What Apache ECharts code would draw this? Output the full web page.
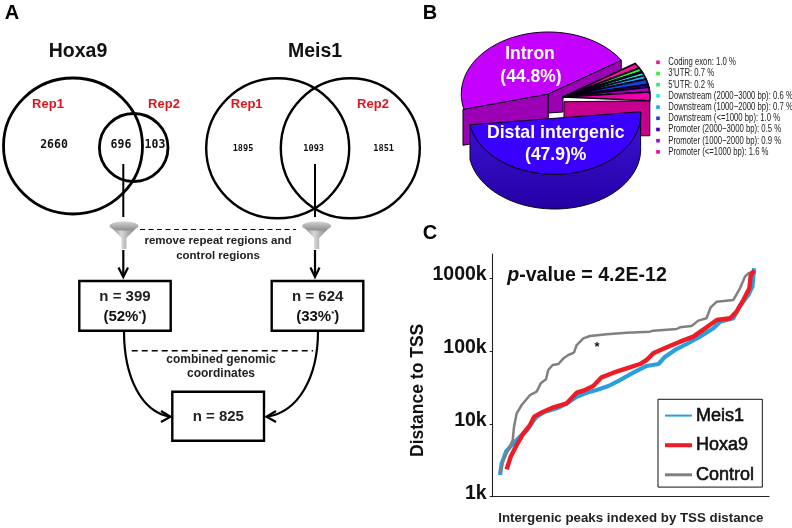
<!DOCTYPE html>
<html><head><meta charset="utf-8">
<style>html,body{margin:0;padding:0;background:#fff}#c{width:792px;height:528px}</style>
<script src="https://cdn.jsdelivr.net/npm/echarts@6/dist/echarts.min.js"></script>
</head><body><div id="c"></div>
<script>
// ---- Panel C data ----
var yTicks = [1000, 10000, 100000, 1000000];
var controlIdx = [2.65,3.86,5.67,7.24,7.72,8.69,10.5,13.5,15.9,17.4,19.3,20.1,21.7,23.8,25.6,27.4,29.4,30.4,32.8,35.2,41.3,48.5,56.9,58.1,66.6,67.8,72.0,74.4,77.4,78.9,81.1,87.1,89.5,91.3,92.5,94.9];
var controlDist = [2094,3190,4377,6010,9160,13970,18190,24950,27730,36100,40970,55050,64480,66600,79620,88510,95300,121300,149900,161400,170200,179500,185300,191000,201400,212300,221300,262400,282500,399900,478600,504700,729500,1054000,1172000,1276000];
var meisIdx = [2.65,3.26,4.83,6.88,9.89,12.5,14.5,15.9,18.9,23.2,26.8,30.4,34.0,37.6,41.9,46.1,50.9,55.7,60.0,62.4,66.0,70.2,75.0,79.9,82.3,87.1,88.9,92.5,94.0,94.6];
var meisDist = [1985,2871,4153,5129,6683,8241,10730,12560,14720,16370,19190,23660,26850,29240,33190,40090,50580,62520,66530,83950,103700,125300,158100,205700,254100,282500,387300,590200,769100,1374000];
var hoxaIdx = [5.07,6.51,8.69,11.1,13.5,15.0,18.3,22.0,26.8,30.4,32.8,36.4,39.4,43.7,48.5,53.3,55.7,58.1,63.0,67.8,72.6,77.4,81.1,85.9,88.3,90.7,92.9,93.4,94.7];
var hoxaDist = [2375,3545,5129,7420,9660,12570,14720,16900,19190,26860,28620,33190,43650,50580,58030,66530,75510,93240,112800,134900,158100,212300,267900,282500,348500,504500,729500,1112000,1276000];
// ---- Panel B data ----
var pieNames = ['Intron','Coding exon',"3'UTR","5'UTR",'Downstream (2000−3000 bp)','Downstream (1000−2000 bp)','Downstream (<=1000 bp)','Promoter (2000−3000 bp)','Promoter (1000−2000 bp)','Promoter (<=1000 bp)','Distal intergenic'];
var pieValues = [44.8,1.0,0.7,0.2,0.6,0.7,1.0,0.5,0.9,1.6,47.9];
var pieColors = ['#c400ff','#f0109a','#33ee33','#22ee66','#22eedd','#11aaee','#0a44e0','#3300cc','#aa00cc','#f000a8','#3a00ff'];
// ---- Panel A data ----
var hoxaCounts = [2660,696,103];
var meisCounts = [1895,1093,1851];
var filteredCounts = [399,624];
var filteredPct = [52,33];
var combinedCount = 825;

function zip(a,b){return a.map(function(v,i){return [v,b[i]];});}
var SANS='"Liberation Sans",Arial,sans-serif';
var MONO='"DejaVu Sans Mono",monospace';

function txt(x,y,t,font,fill,extra){
  var st={x:x,y:y,text:t,font:font,fill:fill||'#111',align:'center',verticalAlign:'middle'};
  if(extra)for(var k in extra)st[k]=extra[k];
  return {type:'text',silent:true,style:st};
}
function ell(cx,cy,rx,ry,w){return {type:'ellipse',shape:{cx:cx,cy:cy,rx:rx,ry:ry},style:{fill:'transparent',stroke:'#000',lineWidth:w}};}
function line(pts,w,dash){return {type:'polyline',shape:{points:pts},style:{fill:'transparent',stroke:'#000',lineWidth:w,lineDash:dash||null}};}
function box(x,y,w,h){return {type:'rect',shape:{x:x,y:y,width:w,height:h},style:{fill:'#fff',stroke:'#000',lineWidth:2.4}};}
function curve(x1,y1,c1x,c1y,c2x,c2y,x2,y2){return {type:'bezierCurve',shape:{x1:x1,y1:y1,cpx1:c1x,cpy1:c1y,cpx2:c2x,cpy2:c2y,x2:x2,y2:y2},style:{fill:'transparent',stroke:'#000',lineWidth:2.2}};}
function funnel(cx){
  var g={type:'linear',x:0,y:0,x2:1,y2:0,colorStops:[{offset:0,color:'#777'},{offset:.4,color:'#d8d8d8'},{offset:1,color:'#6e6e6e'}]};
  return [
    {type:'polygon',shape:{points:[[cx-14,226],[cx+14,226],[cx+2.5,238],[cx+2.5,249],[cx-2.5,249],[cx-2.5,238]]},style:{fill:g}},
    {type:'ellipse',shape:{cx:cx,cy:226,rx:14.5,ry:4.5},style:{fill:{type:'linear',x:0,y:0,x2:0,y2:1,colorStops:[{offset:0,color:'#d4d4d4'},{offset:1,color:'#8c8c8c'}]}}}
  ];
}
var sup={s:{fontSize:8,fontWeight:'bold',fontFamily:'Liberation Sans',fill:'#111',padding:[0,0,6,0]},m:{font:'bold 15px '+SANS,fill:'#111'}};

var els=[
  txt(12,13,'A','bold 20px '+SANS,'#000'),txt(430,13,'B','bold 20px '+SANS,'#000'),txt(430,233,'C','bold 20px '+SANS,'#000'),
  txt(78,52,'Hoxa9','bold 19.5px '+SANS,'#111'),txt(315,52,'Meis1','bold 19.5px '+SANS,'#111'),
  ell(73,146,69.5,68,2.8),ell(133.7,147.5,34.3,34,2.8),ell(277.7,148.3,71.5,70,2.4),ell(350.3,148.3,69.5,70,2.4),
  txt(48,104.5,'Rep1','bold 13px '+SANS,'#e0141e'),txt(164,104.5,'Rep2','bold 13px '+SANS,'#e0141e'),
  txt(246.7,104.5,'Rep1','bold 13px '+SANS,'#e0141e'),txt(373,104.5,'Rep2','bold 13px '+SANS,'#e0141e'),
  txt(54,145,String(hoxaCounts[0]),'bold 11.5px '+MONO),txt(121,145,String(hoxaCounts[1]),'bold 11.5px '+MONO),txt(155,145,String(hoxaCounts[2]),'bold 11.5px '+MONO),
  txt(243,149,String(meisCounts[0]),'bold 8.6px '+MONO),txt(313.7,149,String(meisCounts[1]),'bold 8.6px '+MONO),txt(383.7,149,String(meisCounts[2]),'bold 8.6px '+MONO),
  line([[123.3,164],[123.3,217]],2),line([[315,164],[315,217]],2)
].concat(funnel(124),funnel(316.7),[
  line([[140,229.5],[296,229.5]],1,[5,3.5]),
  txt(218,240.7,'remove repeat regions and','bold 11.5px '+SANS,'#222'),
  txt(218,255.7,'control regions','bold 11.5px '+SANS,'#222'),
  line([[123.3,250],[123.3,276]],2.2),line([[315,250],[315,276]],2.2),
  line([[118.5,267.5],[123.3,277],[128,267.5]],2.2),line([[310.5,267.5],[315,277],[319.5,267.5]],2.2),
  box(79.3,281,91.4,49.7),box(271.7,281,91.6,49.7),box(172.3,391.7,91.7,49),
  txt(125,297.3,'n = '+filteredCounts[0],'bold 15px '+SANS,'#222'),
  txt(317.7,297.3,'n = '+filteredCounts[1],'bold 15px '+SANS,'#222'),
  txt(125,316.7,'{m|('+filteredPct[0]+'%}{s|*}{m|)}','bold 15px '+SANS,'#222',{rich:sup}),
  txt(317.7,316.7,'{m|('+filteredPct[1]+'%}{s|*}{m|)}','bold 15px '+SANS,'#222',{rich:sup}),
  txt(218.3,416.7,'n = '+combinedCount,'bold 15px '+SANS,'#222'),
  curve(124,331,124,378,142,412,170,416.7),curve(318,331,318,378,298,412,267,416.7),
  line([[161,411],[170.5,416.7],[161,422]],2.2),line([[276,411],[266.5,416.7],[276,422]],2.2),
  line([[131.7,350.7],[313,350.7]],1.5,[6,4]),
  txt(221,359.6,'combined genomic','bold 12px '+SANS,'#222'),
  txt(221,373.4,'coordinates','bold 12px '+SANS,'#222'),
  txt(587,275.5,'{i|p}{b|-value = 4.2E-12}','bold 20px '+SANS,'#111',{rich:{i:{font:'italic bold 19.6px '+SANS,fill:'#111'},b:{font:'bold 19.6px '+SANS,fill:'#111'}}}),
  txt(597,347,'*','bold 13px '+SANS,'#111')
]);

// Pie geometry (layout only; angular sizes come from pieValues)
var DEG=Math.PI/180;
var INTRON={cx:548.3,cy:94,rx:87,ry:62,depth:36};
var FAN={cx:563,cy:97,rx:87,ry:60,depth:35,stretch:1.45,start:34};
var DISTAL={cx:554.7,cy:114.3,rx:86,ry:60,depth:34.7,start:190};
function arc(g,a0,a1,off){var n=Math.max(2,Math.ceil(Math.abs(a1-a0)/2)),p=[];for(var i=0;i<=n;i++){var a=(a0+(a1-a0)*i/n)*DEG;p.push([g.cx+g.rx*Math.cos(a),g.cy-g.ry*Math.sin(a)+(off||0)]);}return p;}
function poly(pts,fill,sw){return {type:'polygon',shape:{points:pts},style:{fill:fill,stroke:'#0a0014',lineWidth:sw==null?1:sw,lineJoin:'round'}};}

function renderPie(params,api){
  var i=params.dataIndex,v=api.value(0),ch=[];
  var col=pieColors[i];
  if(i===0){
    var a0=33,a1=a0+v*3.6,g=INTRON;
    var c0=arc(g,a0,a0)[0],c1=arc(g,a1,a1)[0];
    ch.push(poly([[c1[0]-1,c1[1]],[g.cx,g.cy],[g.cx,g.cy+36],[c1[0]-1,c1[1]+36]],'#9c00b4'));
    ch.push(poly([[g.cx,g.cy],c0,[c0[0],c0[1]+19],[FAN.cx,FAN.cy+1],[FAN.cx,FAN.cy+15],[g.cx,g.cy+19]],'#9c00b4'));
    ch.push(poly([[g.cx,g.cy]].concat(arc(g,a0,a1)),col));
    ch.push(txt(530,54.3,pieNames[0],'bold 17.5px '+SANS,'#fff'));
    ch.push(txt(531,77,'('+v+'%)','bold 17.5px '+SANS,'#fff'));
  } else if(i===pieNames.length-1){
    var g=DISTAL,a0=g.start,a1=a0+v*3.6;
    var top=arc(g,a0,a1),bot=arc(g,a1,a0,g.depth);
    ch.push(poly(top.concat(bot),{type:'linear',x:0,y:0,x2:0,y2:1,colorStops:[{offset:0,color:'#3f14d8'},{offset:1,color:'#2400a4'}]}));
    ch.push(poly(top,col));
    ch.push(txt(555.7,133.3,pieNames[i],'bold 17.7px '+SANS,'#fff'));
    ch.push(txt(555.7,155,'('+v+')%','bold 17.5px '+SANS,'#fff'));
  } else {
    var g=FAN,before=0;
    for(var k=1;k<i;k++)before+=pieValues[k];
    var a0=g.start-before*3.6*g.stretch,a1=a0-v*3.6*g.stretch;
    if(i===pieNames.length-2){
      var e=arc(g,a1,a1)[0];
      ch.push(poly([[g.cx+1,e[1]+1],[e[0],e[1]],[e[0],e[1]+35],[g.cx+1,e[1]+35]],'#c4008c'));
    }
    ch.push(poly([[g.cx,g.cy]].concat(arc(g,a0,a1)),col,1.7));
  }
  // legend rows (from the same data; Intron and Distal are labelled on the pie)
  if(i>0&&i<pieNames.length-1){
    var y=62.3+(i-1)*11.2;
    ch.push({type:'rect',shape:{x:656.2,y:y-1.8,width:3.6,height:3.6},style:{fill:col}});
    ch.push({type:'text',x:668.3,y:y,scaleX:0.73,style:{x:0,y:0,text:pieNames[i]+': '+v.toFixed(1)+' %',font:'10.6px '+SANS,fill:'#222',align:'left',verticalAlign:'middle'}});
  }
  return {type:'group',children:ch};
}

var option={
  animation:false,backgroundColor:'#fff',
  grid:{left:492.7,right:23,top:254,bottom:31.3,containLabel:false},
  xAxis:{type:'value',min:0,max:100,axisTick:{show:false},axisLabel:{show:false},splitLine:{show:false},
    axisLine:{lineStyle:{color:'#222',width:1.1}},
    name:'Intergenic peaks indexed by TSS distance',nameLocation:'middle',nameGap:15,
    nameTextStyle:{fontFamily:SANS,fontWeight:'bold',fontSize:13.3,color:'#222'}},
  yAxis:{type:'log',logBase:10,min:1000,max:2160000,splitLine:{show:false},minorTick:{show:false},
    axisLine:{show:true,onZero:false,lineStyle:{color:'#222',width:1.1}},
    axisTick:{show:true,length:3,inside:false,customValues:yTicks,lineStyle:{color:'#222'}},
    axisLabel:{customValues:yTicks,margin:6,verticalAlign:'bottom',lineHeight:7,fontFamily:SANS,fontWeight:'bold',fontSize:19.5,color:'#111',
      formatter:function(v){return Math.round(v/1000)+'k';}},
    name:'Distance to TSS',nameLocation:'middle',nameGap:66,
    nameTextStyle:{fontFamily:SANS,fontWeight:'bold',fontSize:17.5,color:'#111',padding:[0,30,0,0]}},
  legend:{left:658,top:399.3,orient:'vertical',padding:[7,8,3,7],itemGap:11,itemWidth:27,itemHeight:18,
    borderColor:'#111',borderWidth:1,backgroundColor:'#fff',selectedMode:false,icon:'rect',
    textStyle:{fontFamily:SANS,fontSize:18,color:'#111',textBorderColor:'#111',textBorderWidth:0.6,padding:[0,0,0,-1]},
    data:[{name:'Meis1',itemStyle:{color:'#2a9fdf'},icon:'path://M0 8.5H27V10.5H0Z'},
          {name:'Hoxa9',itemStyle:{color:'#ee1c25'},icon:'path://M0 7.5H27V11.5H0Z'},
          {name:'Control',itemStyle:{color:'#808080'},icon:'path://M0 8H27V11H0Z'}]},
  graphic:{elements:els},
  series:[
    {name:'Meis1',type:'line',data:zip(meisIdx,meisDist),symbol:'none',lineStyle:{color:'#2a9fdf',width:4.2},itemStyle:{color:'#2a9fdf'},z:3},
    {name:'Control',type:'line',data:zip(controlIdx,controlDist),symbol:'none',lineStyle:{color:'#808080',width:2.5},itemStyle:{color:'#808080'},z:4},
    {name:'Hoxa9',type:'line',data:zip(hoxaIdx,hoxaDist),symbol:'none',lineStyle:{color:'#ee1c25',width:4.4},itemStyle:{color:'#ee1c25'},z:5},
    {name:'Peak annotation',type:'custom',coordinateSystem:'none',renderItem:renderPie,data:pieValues.map(function(v){return [v];}),silent:true,z:2}
  ]
};
var chart=echarts.init(document.getElementById('c'),null,{renderer:'canvas'});
chart.setOption(option);
</script></body></html>
